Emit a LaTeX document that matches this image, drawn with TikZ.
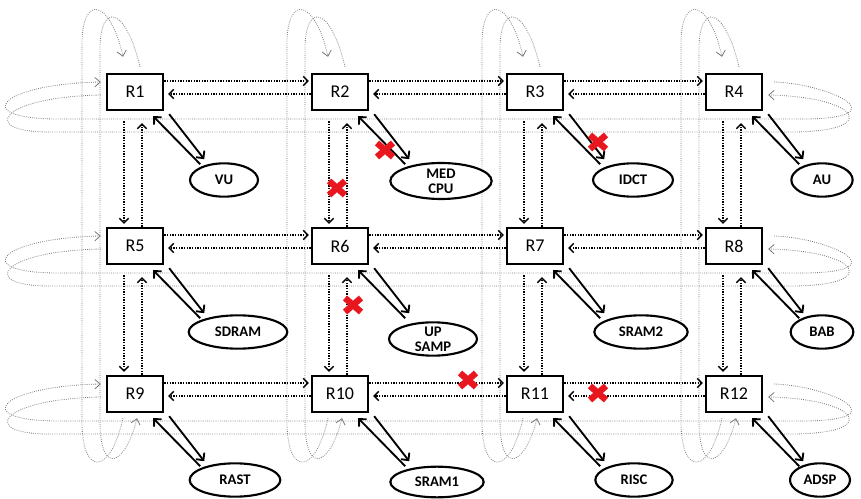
\documentclass[tikz,border=0pt]{standalone}
\usepackage{fontspec}
\setmainfont{Carlito}
\usetikzlibrary{arrows.meta,shapes.geometric,calc}
\definecolor{xred}{RGB}{232,22,30}
\definecolor{wrapgray}{RGB}{120,120,120}
\tikzset{
  router/.style={draw,fill=white,line width=1.8pt,minimum width=42pt,minimum height=27pt,inner sep=0pt,font=\fontsize{13.5}{15}\selectfont},
  ip/.style={draw,fill=white,ellipse,line width=1.6pt,minimum height=25pt,inner sep=-3pt,align=center,font=\bfseries\fontsize{11}{11}\selectfont},
  link/.style={densely dotted,line width=1pt,-{Straight Barb[length=3.5pt,width=7pt]}},
  niarrow/.style={line width=1.4pt,-{Straight Barb[length=4pt,width=8pt]}},
  wrap/.style={wrapgray,densely dotted,line width=0.6pt},
  wraparrow/.style={wrap,-{Straight Barb[length=4pt,width=7pt]}},
  faultx/.pic={\draw[xred,line width=4.8pt] (-8,-7)--(8,7) (-8,7)--(8,-7);}
}
\begin{document}
\begin{tikzpicture}[x=0.75pt,y=-0.75pt]
\useasboundingbox (0,0) rectangle (861,499);

% routers
\node[router] (R1) at (135,92) {R1};
\node[router] (R2) at (340,92) {R2};
\node[router] (R3) at (535,92) {R3};
\node[router] (R4) at (734,92) {R4};
\node[router] (R5) at (135,246) {R5};
\node[router] (R6) at (340,246) {R6};
\node[router] (R7) at (535,246) {R7};
\node[router] (R8) at (734,246) {R8};
\node[router] (R9) at (135,394) {R9};
\node[router] (R10) at (340,394) {R10};
\node[router] (R11) at (535,394) {R11};
\node[router] (R12) at (734,394) {R12};

% wrap-around links (columns)
\foreach \t/\b in {R1/R9,R2/R10,R3/R11,R4/R12}{
  \draw[wraparrow] ([shift={(-12,5)}]\b.south) .. controls +(-13,58) and +(0,55) .. ([shift={(-53,8)}]\b.south)
     -- ([shift={(-53,-29)}]\t.north) .. controls +(0,-50) and +(-13,-58) .. ([shift={(-12,-16)}]\t.north);
  \draw[wraparrow] ([shift={(5,-6)}]\t.north) .. controls +(-15,-63) and +(0,-45) .. ([shift={(-35,-24)}]\t.north)
     -- ([shift={(-35,8)}]\b.south) .. controls +(0,55) and +(-12,48) .. ([shift={(2,5)}]\b.south);
}
% wrap-around links (rows)
\foreach \l/\r in {R1/R4,R5/R8,R9/R12}{
  \draw[wraparrow] ([shift={(11,-10)}]\r.east) .. controls +(57,2) and +(100,0) .. ([shift={(38,27)}]\r.east)
     -- ([shift={(-47,27)}]\l.west) .. controls +(-90,0) and +(-102,2) .. ([shift={(-5,-10)}]\l.west);
  \draw[wraparrow] ([shift={(-5,3)}]\l.west) .. controls +(-102,2) and +(-70,0) .. ([shift={(-57,40)}]\l.west)
     -- ([shift={(28,40)}]\r.east) .. controls +(90,0) and +(93,2) .. ([shift={(5,3)}]\r.east);
}

% IP cores
\node[ip,minimum width=51pt] (VU) at (224,180) {VU};
\node[ip,minimum width=76pt,minimum height=27pt] (MED) at (441,181) {MED\\CPU};
\node[ip,minimum width=60pt] (IDCT) at (633,180) {IDCT};
\node[ip,minimum width=46pt] (AU) at (822,180) {AU};
\node[ip,minimum width=74pt] (SDRAM) at (238,332) {SDRAM};
\node[ip,minimum width=66pt] (UPS) at (433,339) {UP\\SAMP};
\node[ip,minimum width=70pt] (SRAM2) at (641,332) {SRAM2};
\node[ip,minimum width=47pt] (BAB) at (822,332) {BAB};
\node[ip,minimum width=68pt] (RAST) at (235,480) {RAST};
\node[ip,minimum width=70pt,minimum height=23pt] (SRAM1) at (437,482) {SRAM1};
\node[ip,minimum width=58pt] (RISC) at (634,480) {RISC};
\node[ip,minimum width=45pt] (ADSP) at (820,480) {ADSP};

% router <-> IP links
\foreach \r/\e in {R1/VU,R2/MED,R3/IDCT,R4/AU,R5/SDRAM,R6/UPS,R7/SRAM2,R8/BAB,R9/RAST,R10/SRAM1,R11/RISC,R12/ADSP}{
  \draw[niarrow] ([shift={(5,3)}]\r.south east) -- ([shift={(40,48)}]\r.south east);
  \draw[niarrow] ([shift={(36,53)}]\r.south east) -- ([shift={(-11,5)}]\r.south east);
}

% horizontal mesh links
\foreach \a/\b in {R1/R2,R2/R3,R3/R4,R5/R6,R6/R7,R7/R8,R9/R10,R10/R11,R11/R12}{
  \draw[link] ([shift={(0,-11)}]\a.east) -- ([shift={(-2,-11)}]\b.west);
  \draw[link] ([shift={(0,2)}]\b.west) -- ([shift={(4,2)}]\a.east);
}
% vertical mesh links
\foreach \a/\b in {R1/R5,R2/R6,R3/R7,R4/R8,R5/R9,R6/R10,R7/R11,R8/R12}{
  \draw[link] ([shift={(-11,10)}]\a.south) -- ([shift={(-11,-3)}]\b.north);
  \draw[link] ([shift={(7,0)}]\b.north) -- ([shift={(7,12)}]\a.south);
}

% faults
\pic at (385,150) {faultx};
\pic at (337,188) {faultx};
\pic at (598,142) {faultx};
\pic at (353,305) {faultx};
\pic at (468,380) {faultx};
\pic at (598,393) {faultx};
\end{tikzpicture}
\end{document}
